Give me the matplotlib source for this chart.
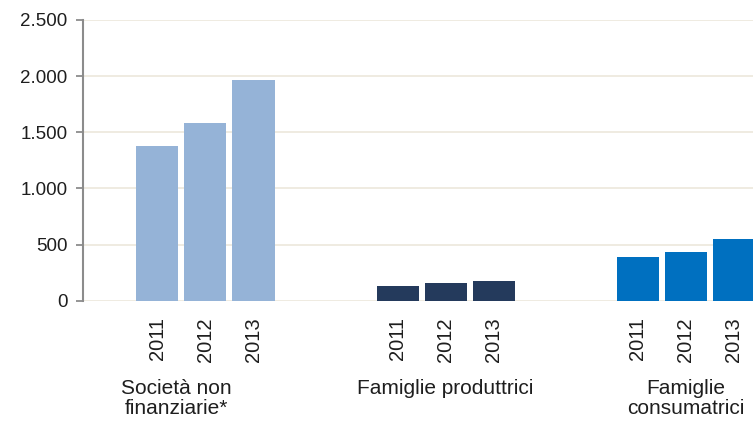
import numpy as np
import matplotlib.pyplot as plt
from matplotlib.ticker import FuncFormatter

# dati (milioni di euro)
settori = ['Società non\nfinanziarie*', 'Famiglie produttrici', 'Famiglie\nconsumatrici']
anni = ['2011', '2012', '2013']
valori = [
    [1380, 1580, 1970],   # società non finanziarie
    [134, 155, 175],      # famiglie produttrici
    [386, 436, 547],      # famiglie consumatrici
]
colori = ['#95b3d7', '#243a5c', '#0070c0']

plt.rcParams['font.family'] = ['Liberation Sans', 'DejaVu Sans']
testo = '#1e1e1e'

fig = plt.figure(figsize=(7.53, 4.21), dpi=100)
ax = fig.add_axes([0.1102, 0.2855, 0.8898, 0.667])

# ogni gruppo occupa 3 posti, più 2 posti vuoti tra un gruppo e l'altro
passo = len(anni) + 2
pos_tick = []
lab_tick = []
centri = []
for i, serie in enumerate(valori):
    x = np.arange(len(anni)) + i * passo
    ax.bar(x, serie, width=0.875, color=colori[i], zorder=3)
    pos_tick.extend(x)
    lab_tick.extend(anni)
    centri.append(x.mean())

ax.set_xlim(-1.55, 12.4)
ax.set_ylim(0, 2500)
ax.set_yticks(np.arange(0, 2501, 500))
ax.yaxis.set_major_formatter(FuncFormatter(lambda v, p: f'{int(v):,}'.replace(',', '.')))

ax.set_xticks(pos_tick)
ax.set_xticklabels(lab_tick, rotation=90, fontsize=14.5, color=testo, va='top')
ax.tick_params(axis='x', length=0, pad=12)
ax.tick_params(axis='y', length=5, width=1.3, color='#8c8c8c', labelsize=13.5,
               labelcolor=testo, pad=6)

ax.grid(axis='y', color='#ece8dc', linewidth=1.2, zorder=0)
for lato in ['top', 'right', 'bottom']:
    ax.spines[lato].set_visible(False)
ax.spines['left'].set_color('#8c8c8c')
ax.spines['left'].set_linewidth(1.5)

# etichette dei settori sotto gli anni
spost = [-0.6, 0, 0]
for c, nome, s in zip(centri, settori, spost):
    ax.annotate(nome, xy=(c + s, 0), xycoords=('data', 'axes fraction'),
                xytext=(0, -56), textcoords='offset points',
                ha='center', va='top', fontsize=15, color=testo,
                linespacing=1.1)

fig.savefig('out.png', dpi=100)
